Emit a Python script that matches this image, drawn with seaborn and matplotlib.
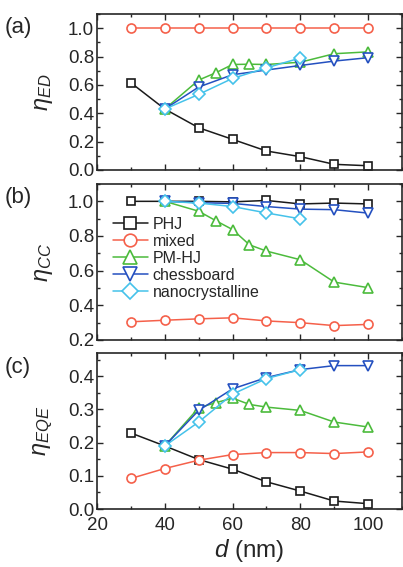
import matplotlib
matplotlib.use('Agg')
from matplotlib import pyplot as plt
from matplotlib.ticker import MultipleLocator
import seaborn as sns

# thickness d (nm)
d = [30, 40, 50, 60, 70, 80, 90, 100]
d_pm = [40, 50, 55, 60, 65, 70, 80, 90, 100]
d_cb = [40, 50, 60, 70, 80, 90, 100]
d_nc = [40, 50, 60, 70, 80]

# (a) exciton diffusion efficiency
ed_phj = [0.615, 0.43, 0.298, 0.216, 0.134, 0.094, 0.04, 0.03]
ed_mixed = [1.0, 1.0, 1.0, 1.0, 1.0, 1.0, 1.0, 1.0]
ed_pm = [0.43, 0.634, 0.685, 0.744, 0.746, 0.744, 0.76, 0.82, 0.833]
ed_cb = [0.43, 0.585, 0.672, 0.705, 0.737, 0.768, 0.792]
ed_nc = [0.43, 0.533, 0.646, 0.72, 0.79]

# (b) charge collection efficiency
cc_phj = [1.0, 1.0, 1.0, 0.997, 1.005, 0.985, 0.99, 0.985]
cc_mixed = [0.305, 0.314, 0.322, 0.328, 0.31, 0.30, 0.283, 0.29]
cc_pm = [1.0, 0.943, 0.889, 0.837, 0.749, 0.713, 0.663, 0.534, 0.502]
cc_cb = [1.0, 0.992, 0.988, 0.97, 0.955, 0.952, 0.932]
cc_nc = [1.0, 0.99, 0.97, 0.933, 0.899]

# (c) external quantum efficiency
eqe_phj = [0.229, 0.19, 0.149, 0.12, 0.082, 0.054, 0.024, 0.016]
eqe_mixed = [0.092, 0.122, 0.147, 0.164, 0.17, 0.17, 0.167, 0.172]
eqe_pm = [0.19, 0.305, 0.32, 0.334, 0.315, 0.307, 0.297, 0.262, 0.247]
eqe_cb = [0.19, 0.297, 0.362, 0.396, 0.42, 0.432, 0.432]
eqe_nc = [0.19, 0.262, 0.346, 0.393, 0.42]

names = ['PHJ', 'mixed', 'PM-HJ', 'chessboard', 'nanocrystalline']
colors = ['#1a1a1a', '#f5604a', '#4cbb3c', '#2450c0', '#45c2ea']
marks = ['s', 'o', '^', 'v', 'D']
msizes = [6, 6.5, 7.5, 7.5, 6]
xs = [d, d, d_pm, d_cb, d_nc]

panels = [
    ([ed_phj, ed_mixed, ed_pm, ed_cb, ed_nc], r'$\eta_{ED}$', (0, 1.1), 0.2, 0.1, '(a)'),
    ([cc_phj, cc_mixed, cc_pm, cc_cb, cc_nc], r'$\eta_{CC}$', (0.2, 1.1), 0.2, 0.1, '(b)'),
    ([eqe_phj, eqe_mixed, eqe_pm, eqe_cb, eqe_nc], r'$\eta_{EQE}$', (0, 0.47), 0.1, 0.05, '(c)'),
]

sns.set_style('ticks')
plt.rcParams['font.family'] = ['Liberation Sans', 'DejaVu Sans']
plt.rcParams['mathtext.fontset'] = 'custom'
plt.rcParams['mathtext.rm'] = 'Liberation Sans'
plt.rcParams['mathtext.it'] = 'Liberation Sans:italic'

fig = plt.figure(figsize=(4.03, 5.67), dpi=100)
boxes = [(14, 170), (184, 340), (353, 509)]
left, right = 97 / 403, 402 / 403

for i, (series, ylab, ylim, major, minor, tag) in enumerate(panels):
    top, bot = boxes[i]
    ax = fig.add_axes([left, 1 - bot / 567, right - left, (bot - top) / 567])
    for x, y, nm, c, m, ms in zip(xs, series, names, colors, marks, msizes):
        sns.lineplot(x=x, y=y, ax=ax, color=c, marker=m, markersize=ms,
                     markerfacecolor='white', markeredgecolor=c, markeredgewidth=1.2,
                     linewidth=1.1, label=nm, legend=False)
    ax.set_xlim(20, 110)
    ax.set_ylim(*ylim)
    ax.xaxis.set_major_locator(MultipleLocator(20))
    ax.xaxis.set_minor_locator(MultipleLocator(10))
    ax.yaxis.set_major_locator(MultipleLocator(major))
    ax.yaxis.set_minor_locator(MultipleLocator(minor))
    ax.tick_params(which='both', direction='in', top=True, right=True, width=1.0)
    ax.tick_params(which='major', length=4, labelsize=13.5)
    ax.tick_params(axis='y', pad=2)
    ax.tick_params(axis='x', pad=6)
    ax.tick_params(which='minor', length=2.5)
    ax.yaxis.set_major_formatter(matplotlib.ticker.FormatStrFormatter('%.1f'))
    for s in ax.spines.values():
        s.set_linewidth(1.2)
    ax.set_ylabel(ylab, fontsize=17, labelpad=9)
    if i < 2:
        ax.set_xticklabels([])
        ax.set_xlabel('')
    else:
        ax.set_xlabel(r'$d$ (nm)', fontsize=17.5, labelpad=2)
    if i == 1:
        ax.legend(loc='upper left', bbox_to_anchor=(0.03, 0.83), frameon=False,
                  fontsize=11.5, handlelength=2.2, handletextpad=0.3,
                  labelspacing=0.12, borderpad=0.2, borderaxespad=0.2, markerscale=1.4)
    fig.text(0.012, 1 - (top + 14) / 567, tag, fontsize=16, va='center')

fig.savefig('out.png', dpi=100)
